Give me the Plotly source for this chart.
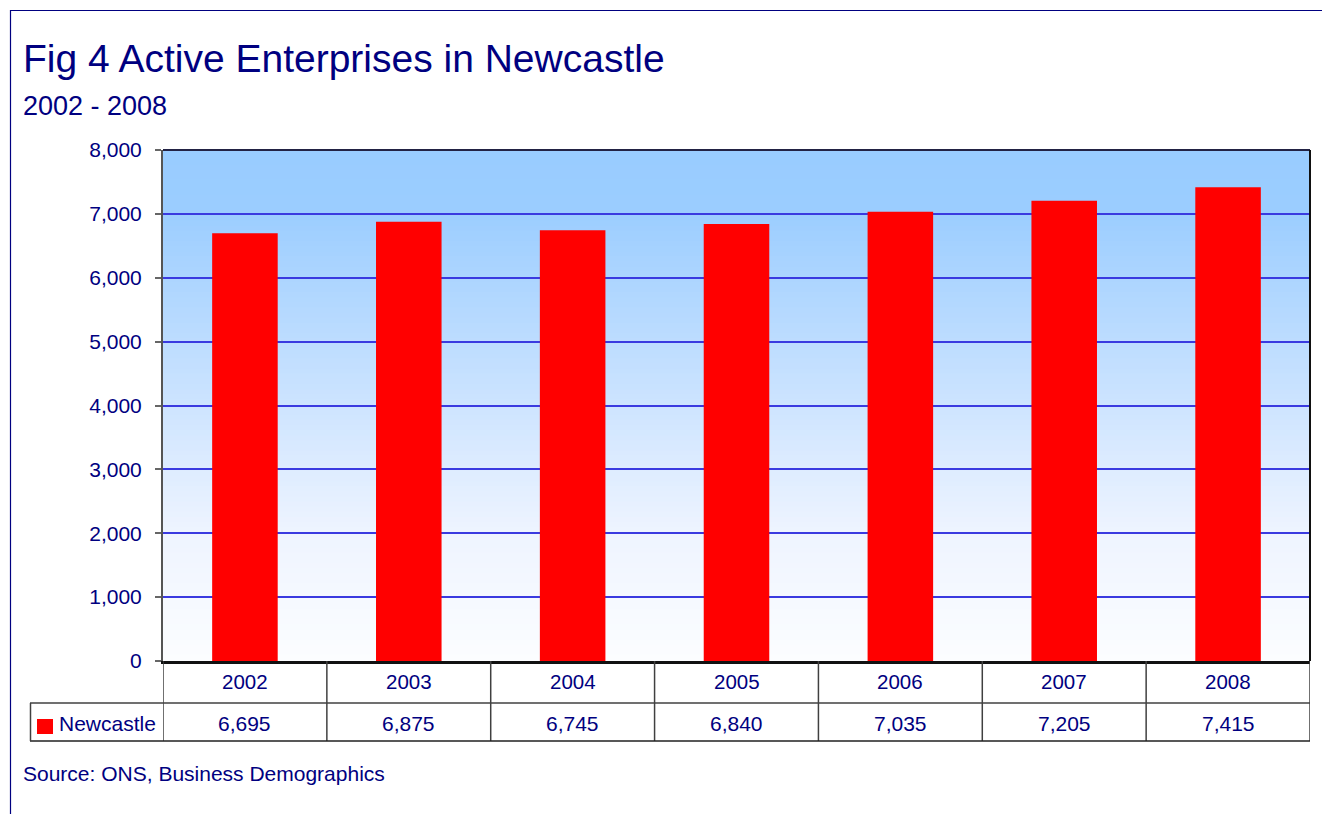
import plotly.graph_objects as go

years = ["2002", "2003", "2004", "2005", "2006", "2007", "2008"]
enterprises = [6695, 6875, 6745, 6840, 7035, 7205, 7415]
series_name = "Newcastle"
title_text = "Fig 4 Active Enterprises in Newcastle"
subtitle_text = "2002 - 2008"
source_text = "Source: ONS, Business Demographics"

W, H = 1322, 814
L, R, T, B = 163, 1310, 150, 661
PW, PH = R - L, B - T

FONT = "Liberation Sans, Arial, sans-serif"
NAVY = "#000080"


def px(x):
    return (x - L) / PW


def py(y):
    return (B - y) / PH


fig = go.Figure()
fig.add_trace(go.Bar(
    x=years, y=enterprises, name=series_name,
    marker=dict(color="#FF0000", line=dict(width=0)),
    width=0.4, showlegend=False,
))

shapes = []
# gradient background
stops = [(0.0, (153, 204, 255)), (0.12, (155, 205, 255)), (0.5, (205, 228, 255)),
         (0.75, (238, 244, 255)), (1.0, (252, 253, 255))]


def col_at(t):
    for (t0, c0), (t1, c1) in zip(stops[:-1], stops[1:]):
        if t0 <= t <= t1:
            f = (t - t0) / (t1 - t0) if t1 > t0 else 0
            return tuple(round(a + (b - a) * f) for a, b in zip(c0, c1))
    return stops[-1][1]


N = 100
for i in range(N):
    t = (i + 0.5) / N
    c = col_at(t)
    shapes.append(dict(type="rect", xref="paper", yref="paper", x0=0, x1=1,
                       y0=1 - (i + 1) / N, y1=1 - i / N + 0.002, layer="below",
                       line=dict(width=0), fillcolor="rgb(%d,%d,%d)" % c))

# outer frame lines
shapes.append(dict(type="line", xref="paper", yref="paper", x0=px(10), x1=px(W + 5),
                   y0=py(10.5), y1=py(10.5), line=dict(color=NAVY, width=1.2)))
shapes.append(dict(type="line", xref="paper", yref="paper", x0=px(10.5), x1=px(10.5),
                   y0=py(10), y1=py(H + 5), line=dict(color=NAVY, width=1.2)))

TBL = "#404040"
# data table lines
for i in range(len(years) + 1):
    xx = i - 0.5
    shapes.append(dict(type="line", xref="x", yref="paper", x0=xx, x1=xx,
                       y0=py(661), y1=py(741), line=dict(color=TBL, width=1.5)))
shapes.append(dict(type="line", xref="paper", yref="paper", x0=px(30), x1=1,
                   y0=py(703), y1=py(703), line=dict(color=TBL, width=1.5)))
shapes.append(dict(type="line", xref="paper", yref="paper", x0=px(30), x1=1,
                   y0=py(741), y1=py(741), line=dict(color="#202020", width=1.5)))
shapes.append(dict(type="line", xref="paper", yref="paper", x0=px(30.5), x1=px(30.5),
                   y0=py(703), y1=py(741), line=dict(color=TBL, width=1.5)))
# legend key
shapes.append(dict(type="rect", xref="paper", yref="paper", x0=px(37), x1=px(53),
                   y0=py(734), y1=py(719), line=dict(width=0), fillcolor="#FF0000"))

annotations = [
    dict(text=title_text, xref="paper", yref="paper", x=px(21), y=py(59),
         xanchor="left", yanchor="middle", showarrow=False,
         font=dict(family=FONT, size=39, color=NAVY)),
    dict(text=subtitle_text, xref="paper", yref="paper", x=px(21), y=py(106),
         xanchor="left", yanchor="middle", showarrow=False,
         font=dict(family=FONT, size=27, color=NAVY)),
    dict(text=source_text, xref="paper", yref="paper", x=px(21), y=py(773),
         xanchor="left", yanchor="middle", showarrow=False,
         font=dict(family=FONT, size=21, color=NAVY)),
    dict(text=series_name, xref="paper", yref="paper", x=px(57), y=py(723),
         xanchor="left", yanchor="middle", showarrow=False,
         font=dict(family=FONT, size=21, color=NAVY)),
]
for i, (yr, v) in enumerate(zip(years, enterprises)):
    annotations.append(dict(text=yr, xref="x", yref="paper", x=i, y=py(681),
                            xanchor="center", yanchor="middle", showarrow=False,
                            font=dict(family=FONT, size=20.5, color=NAVY)))
    annotations.append(dict(text=f"{v:,}", xref="x", yref="paper", x=i, y=py(723),
                            xanchor="center", yanchor="middle", showarrow=False,
                            font=dict(family=FONT, size=21, color=NAVY)))

fig.update_layout(
    width=W, height=H,
    margin=dict(l=L, r=W - R, t=T, b=H - B),
    paper_bgcolor="white", plot_bgcolor="rgba(0,0,0,0)",
    font=dict(family=FONT, color=NAVY, size=21),
    shapes=shapes, annotations=annotations,
    bargap=0.6,
    xaxis=dict(type="category", showticklabels=False, ticks="", showgrid=False,
               showline=True, linecolor="#111111", linewidth=2.5, mirror=False,
               range=[-0.5, len(years) - 0.5], fixedrange=True),
    yaxis=dict(range=[0, 8000], dtick=1000, tickformat=",", showgrid=True,
               gridcolor="#3a3ae0", gridwidth=1.5, zeroline=False,
               ticks="outside", ticklen=6, tickcolor="#666666", tickwidth=1.5,
               ticklabelstandoff=9,
               showline=True, linecolor="#555555", linewidth=2,
               tickfont=dict(family=FONT, size=21, color=NAVY), fixedrange=True),
)
# plot top and right border
fig.add_shape(type="line", xref="paper", yref="paper", x0=0, x1=1, y0=1, y1=1,
              line=dict(color="#222244", width=2))
fig.add_shape(type="line", xref="paper", yref="paper", x0=1, x1=1, y0=0, y1=1,
              line=dict(color="#111111", width=2))

fig.write_html("out.html")
